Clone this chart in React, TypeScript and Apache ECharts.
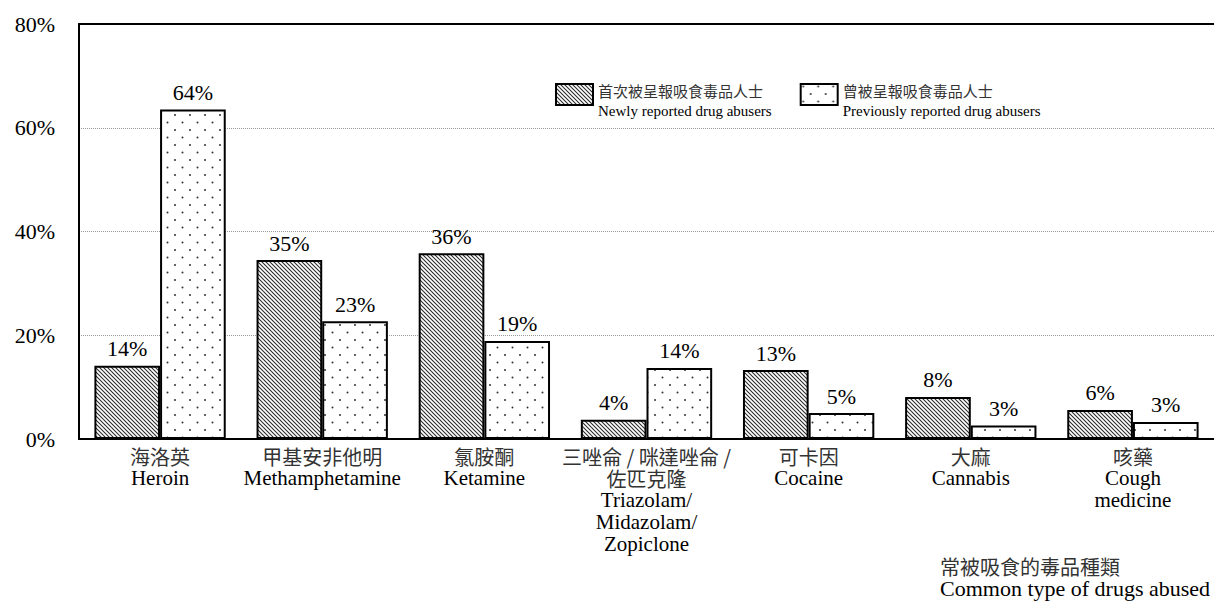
import React, { useEffect, useRef } from "react";
import * as echarts from "echarts";

const categoriesZh = ["海洛英", "甲基安非他明", "氯胺酮", "三唑侖 / 咪達唑侖 /\n佐匹克隆", "可卡因", "大麻", "咳藥"];
const categoriesEn = ["Heroin", "Methamphetamine", "Ketamine", "Triazolam/\nMidazolam/\nZopiclone", "Cocaine", "Cannabis", "Cough\nmedicine"];
const newValues = [14.1, 34.5, 35.8, 3.7, 13.3, 8.1, 5.6];
const prevValues = [63.5, 22.7, 18.9, 13.7, 5.0, 2.6, 3.3];
const seriesZh = ["首次被呈報吸食毒品人士", "曾被呈報吸食毒品人士"];
const seriesEn = ["Newly reported drug abusers", "Previously reported drug abusers"];
const yTicks = [0, 20, 40, 60, 80];
const axisTitleZh = "常被吸食的毒品種類";
const axisTitleEn = "Common type of drugs abused";

const SERIF = "Liberation Serif";
const CJK = "Noto Sans CJK TC";

function hatchPattern() {
  const c = document.createElement("canvas");
  c.width = 8;
  c.height = 8;
  const ctx = c.getContext("2d")!;
  ctx.fillStyle = "#fff";
  ctx.fillRect(0, 0, 8, 8);
  ctx.strokeStyle = "#2a2a2a";
  ctx.lineWidth = 1.1;
  for (let k = -8; k <= 8; k += 4) {
    ctx.beginPath();
    ctx.moveTo(k - 1, -1);
    ctx.lineTo(k + 9, 9);
    ctx.stroke();
  }
  return { image: c, repeat: "repeat" };
}

function dotPattern() {
  const c = document.createElement("canvas");
  c.width = 15;
  c.height = 15;
  const ctx = c.getContext("2d")!;
  ctx.fillStyle = "#fff";
  ctx.fillRect(0, 0, 15, 15);
  ctx.fillStyle = "#333";
  ctx.beginPath();
  ctx.arc(2.5, 2.5, 1, 0, Math.PI * 2);
  ctx.fill();
  ctx.beginPath();
  ctx.arc(10, 10, 1, 0, Math.PI * 2);
  ctx.fill();
  return { image: c, repeat: "repeat" };
}

function wrap(tag: string, s: string) {
  return s
    .split("\n")
    .map((l) => `{${tag}|${l}}`)
    .join("\n");
}

export default function App() {
  const ref = useRef<HTMLDivElement>(null);
  useEffect(() => {
    document.body.style.margin = "0";
    const chart = echarts.init(ref.current!, null, { renderer: "svg" });
    const hatch = hatchPattern();
    const dots = dotPattern();
    const labelStyle = {
      show: true,
      position: "top" as const,
      distance: 6,
      fontFamily: SERIF,
      fontSize: 22,
      color: "#000",
      formatter: (p: any) => `${Math.round(p.value)}%`,
    };
    chart.setOption({
      animation: false,
      backgroundColor: "#fff",
      grid: { left: 79, top: 24, bottom: 162, right: -9, containLabel: false },
      legend: {
        left: 550,
        top: 78,
        itemWidth: 37,
        itemHeight: 21,
        itemGap: 28,
        icon: "rect",
        data: ["new", "prev"],
        formatter: (name: string) => {
          const i = name === "new" ? 0 : 1;
          return `{zh|${seriesZh[i]}}\n{en|${seriesEn[i]}}`;
        },
        textStyle: {
          padding: [12, 0, 0, 0],
          rich: {
            zh: { fontFamily: CJK, fontSize: 15, color: "#333", lineHeight: 20 },
            en: { fontFamily: SERIF, fontSize: 15, color: "#000", lineHeight: 20 },
          },
        },
      },
      xAxis: [
        {
          type: "category",
          data: categoriesEn.map((_, i) => i),
          axisLine: { lineStyle: { color: "#000", width: 2 } },
          axisTick: { show: false },
          splitLine: { show: false },
          axisLabel: {
            interval: 0,
            margin: 6,
            formatter: (v: string) => {
              const i = Number(v);
              return `${wrap("zh", categoriesZh[i])}\n${wrap("en", categoriesEn[i])}`;
            },
            rich: {
              zh: { fontFamily: CJK, fontSize: 20, color: "#333", lineHeight: 22 },
              en: { fontFamily: SERIF, fontSize: 21, color: "#000", lineHeight: 22 },
            },
          },
        },
        {
          type: "category",
          position: "top",
          data: categoriesEn.map((_, i) => i),
          axisLine: { lineStyle: { color: "#000", width: 2 } },
          axisTick: { show: false },
          axisLabel: { show: false },
          splitLine: { show: false },
        },
      ],
      yAxis: {
        type: "value",
        min: yTicks[0],
        max: yTicks[yTicks.length - 1],
        interval: 20,
        axisLine: { show: true, lineStyle: { color: "#000", width: 2 } },
        axisTick: { show: false },
        splitLine: { show: true, lineStyle: { color: "#999", width: 1, type: "dotted" } },
        axisLabel: { margin: 24, fontFamily: SERIF, fontSize: 22, color: "#000", formatter: "{value}%" },
      },
      series: [
        { name: "new", type: "bar", data: newValues, barGap: "0%", barCategoryGap: "19%", itemStyle: { color: hatch, borderColor: "#000", borderWidth: 2 }, label: labelStyle },
        { name: "prev", type: "bar", data: prevValues, barGap: "0%", barCategoryGap: "19%", itemStyle: { color: dots, borderColor: "#000", borderWidth: 2 }, label: labelStyle },
      ],
      graphic: [
        {
          type: "text",
          left: 940,
          top: 556,
          style: {
            text: `{zh|${axisTitleZh}}\n{en|${axisTitleEn}}`,
            rich: {
              zh: { fontFamily: CJK, fontSize: 20, fill: "#333", lineHeight: 22 },
              en: { fontFamily: SERIF, fontSize: 22, fill: "#000", lineHeight: 22 },
            },
          },
        },
      ],
    });
    return () => chart.dispose();
  }, []);
  return <div ref={ref} style={{ width: 1214, height: 601 }} />;
}
